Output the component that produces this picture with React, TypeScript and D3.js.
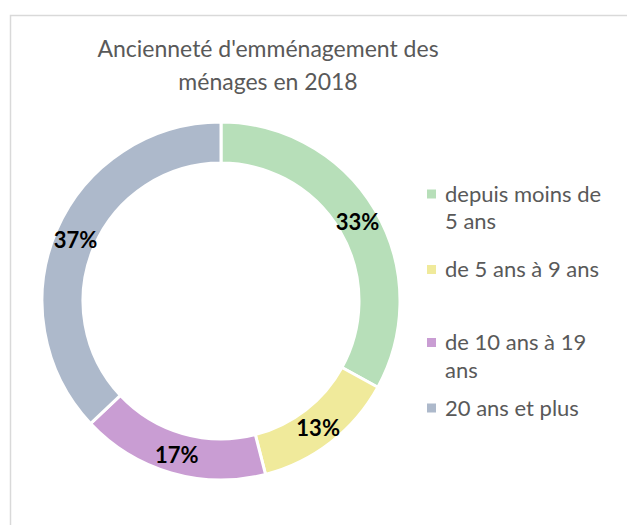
import React from "react";
import * as d3 from "d3";

const categories = ["depuis moins de 5 ans", "de 5 ans à 9 ans", "de 10 ans à 19 ans", "20 ans et plus"];
const legendLines = [["depuis moins de", "5 ans"], ["de 5 ans à 9 ans"], ["de 10 ans à 19", "ans"], ["20 ans et plus"]];
const values = [33, 13, 17, 37];
const colors = ["#b7dfb9", "#f0ea9b", "#c99dd3", "#adb9cb"];
const titleLines = ["Ancienneté d'emménagement des", "ménages en 2018"];

const FONT = "Lato, 'Open Sans', sans-serif";

export default function App() {
  const W = 627, H = 525;
  const cx = 221, cy = 301, R = 179, r = 138;
  const pie = d3.pie<number>().sort(null).value((d) => d);
  const arcs = pie(values);
  const arc = d3.arc<d3.PieArcDatum<number>>().innerRadius(r).outerRadius(R);
  const labelArc = d3.arc<d3.PieArcDatum<number>>().innerRadius((R + r) / 2).outerRadius((R + r) / 2);
  const legendY = [194, 269.5, 342.5, 408];
  return (
    <svg width={W} height={H} style={{ position: "absolute", left: 0, top: 0 }}>
      <rect x={0} y={0} width={W} height={H} fill="#fff" />
      <rect x={10.5} y={15.5} width={W + 20} height={H + 20} fill="#fff" stroke="#d9d9d9" strokeWidth={1.5} />
      <g fontFamily={FONT} fill="#595959" fontSize={23} textAnchor="middle">
        {titleLines.map((t, i) => (
          <text key={i} x={268} y={57 + i * 33}>{t}</text>
        ))}
      </g>
      <g transform={`translate(${cx},${cy})`}>
        {arcs.map((a, i) => (
          <path key={i} d={arc(a) || ""} fill={colors[i]} stroke="#fff" strokeWidth={3} />
        ))}
        {arcs.map((a, i) => {
          const [x, y] = labelArc.centroid(a);
          return (
            <text key={i} x={x} y={y} dy="0.45em" textAnchor="middle" fontFamily={FONT} fontWeight="bold" fontSize={22} fill="#000">
              {values[i]}%
            </text>
          );
        })}
      </g>
      <g fontFamily={FONT} fontSize={22} fill="#595959">
        {categories.map((c, i) => (
          <g key={c}>
            <rect x={427} y={legendY[i] - 4.5} width={9} height={9} fill={colors[i]} />
            {legendLines[i].map((l, j) => (
              <text key={j} x={445} y={legendY[i] + j * 27.5} dy="0.36em">{l}</text>
            ))}
          </g>
        ))}
      </g>
    </svg>
  );
}
